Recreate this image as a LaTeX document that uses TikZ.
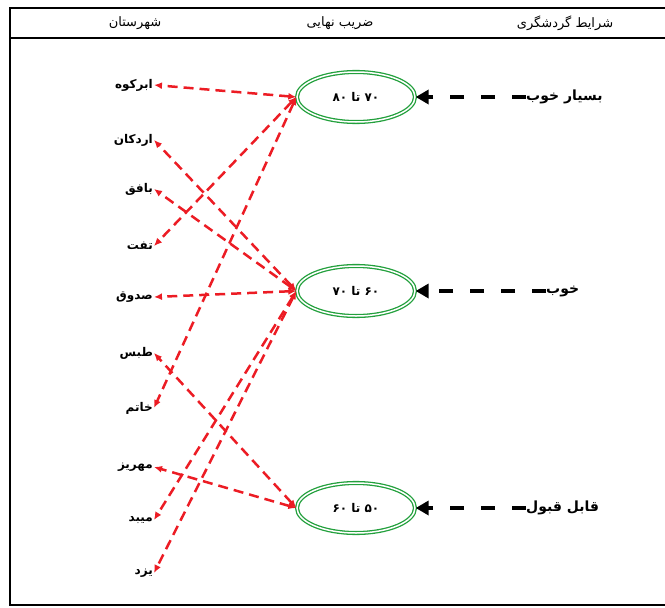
\documentclass[tikz,border=0pt]{standalone}
\usepackage{fontspec}
\usetikzlibrary{shapes.geometric,arrows.meta}
\newfontfamily\farsi[Script=Arabic]{DejaVu Sans}
\TeXXeTstate=1
\definecolor{linkred}{RGB}{236,28,36}
\definecolor{ringgreen}{RGB}{34,160,60}

\begin{document}
\begin{tikzpicture}[x=1pt,y=-1pt,
  head/.style={font=\farsi\fontsize{13}{15}\selectfont},
  city/.style={anchor=east,inner sep=1pt,font=\farsi\bfseries\fontsize{12}{14}\selectfont},
  ring/.style={ellipse,draw=ringgreen,double=white,double distance=1.5pt,line width=1.3pt,
    minimum width=118pt,minimum height=50pt,font=\farsi\bfseries\fontsize{12}{14}\selectfont},
  grade/.style={anchor=west,inner sep=0pt,font=\farsi\bfseries\fontsize{14}{17}\selectfont},
  link/.style={linkred,line width=2.5pt,dash pattern=on 10pt off 6pt,
    {Latex[length=8pt,width=7pt]}-{Latex[length=8pt,width=7pt]}},
  pointer/.style={black,line width=4pt,dash pattern=on 14pt off 17pt,
    -{Triangle[length=13pt,width=14pt]}}]
\useasboundingbox (0,0) rectangle (665,608);

% Frame
\draw[line width=1.6pt] (665,8) -- (10,8) -- (10,605) -- (665,605);
\draw[line width=1.6pt] (10,38) -- (665,38);

% Header
\node[head] (h1) at (135,23) {\beginR شهرستان\endR};
\node[head] (h2) at (340,23) {\beginR ضریب نهایی\endR};
\node[head] (h3) at (565,23) {\beginR شرایط گردشگری\endR};

% Cities
\foreach \n/\y/\t in {abarkuh/85/ابرکوه, ardakan/140/اردکان, bafq/189/بافق,
    taft/246/تفت, saduq/297/صدوق, tabas/353/طبس, khatam/408/خاتم,
    mehriz/467/مهریز, meybod/520/میبد, yazd/573/یزد} {
  \node[city] (\n) at (154,\y) {\beginR\t\endR};
}

% Final coefficient
\node[ring] (r1) at (356,97) {\beginR ۷۰ تا ۸۰\endR};
\node[ring] (r2) at (356,291) {\beginR ۶۰ تا ۷۰\endR};
\node[ring] (r3) at (356,508) {\beginR ۵۰ تا ۶۰\endR};

% Tourism grade
\node[grade] (g1) at (526,97) {\beginR بسیار خوب\endR};
\node[grade] (g2) at (546,291) {\beginR خوب\endR};
\node[grade] (g3) at (526,508) {\beginR قابل قبول\endR};
\draw[pointer] (g1.west) -- (r1.east);
\draw[pointer] (g2.west) -- (r2.east);
\draw[pointer] (g3.west) -- (r3.east);

% Links
\foreach \c in {abarkuh,taft,khatam} \draw[link] (r1.west) -- (\c.east);
\foreach \c in {ardakan,bafq,saduq,meybod,yazd} \draw[link] (r2.west) -- (\c.east);
\foreach \c in {tabas,mehriz} \draw[link] (r3.west) -- (\c.east);
\end{tikzpicture}
\end{document}
